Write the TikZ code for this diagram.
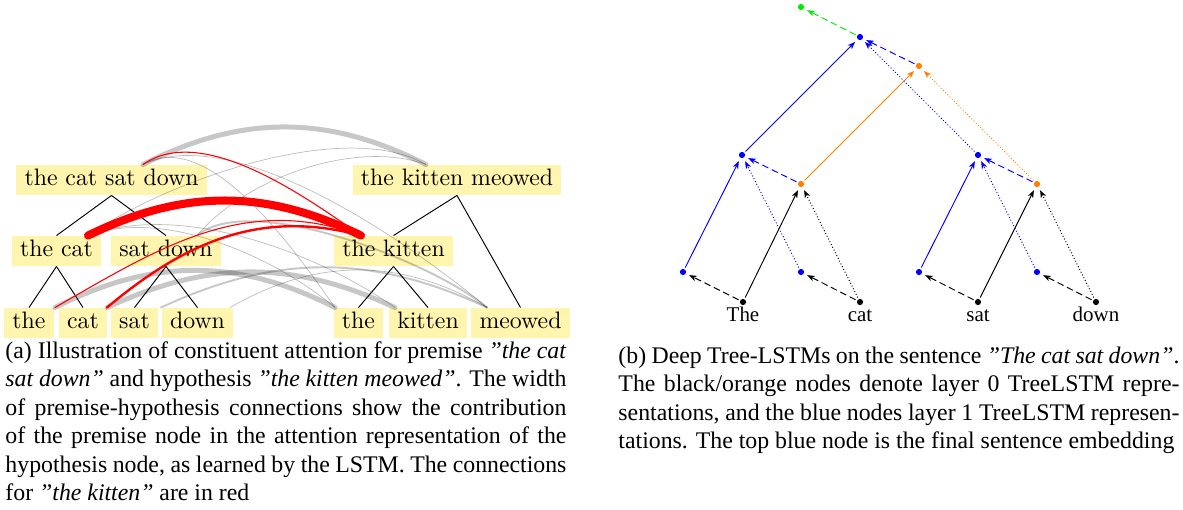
\documentclass[tikz,border=0pt]{standalone}
\usepackage{fontspec}
\newfontfamily\tms{Liberation Serif}
\usetikzlibrary{arrows.meta,calc}
\definecolor{boxy}{RGB}{255,245,175}
\definecolor{gr}{RGB}{0,235,0}
\newcommand{\capw}{235.7pt}
\begin{document}
\begin{tikzpicture}[x=0.42017pt,y=0.42017pt,
 wbox/.style={fill=boxy,inner xsep=3.4pt,inner ysep=1.6pt,text height=7.2pt,text depth=2.2pt},
 tedge/.style={line width=0.4pt},
 garc/.style={draw=black,draw opacity=0.22,line cap=round},
 gthin/.style={draw=black,draw opacity=0.26,line width=0.3pt},
 rarc/.style={draw=red,line cap=round},
 dotn/.style={circle,inner sep=0pt,minimum size=2.6pt},
 arr/.style={-{Stealth[length=3.2pt,width=2.4pt,inset=0.9pt]},line width=0.4pt,shorten >=1.4pt,shorten <=0.6pt},
 dsh/.style={dash pattern=on 2.8pt off 1.6pt},
 dtt/.style={dash pattern=on 0.4pt off 0.9pt},
 wlab/.style={anchor=base,inner sep=0pt,font=\tms\fontsize{8.8}{10}\selectfont},
 capl/.style={anchor=base west,inner sep=0pt,font=\tms\fontsize{10}{12}\selectfont}]
\useasboundingbox (0,0) rectangle (1183,-509);

% ---------- left panel: boxes ----------
\node[wbox] (PA) at (111.5,-180) {the cat sat down};
\node[wbox] (PB) at (56.5,-251) {the cat};
\node[wbox] (PC) at (166,-251) {sat down};
\node[wbox] (P1) at (29,-323) {the};
\node[wbox] (P2) at (83,-323) {cat};
\node[wbox] (P3) at (134.5,-323) {sat};
\node[wbox] (P4) at (197.5,-323) {down};
\node[wbox] (HA) at (457,-180) {the kitten meowed};
\node[wbox] (HB) at (393.5,-251) {the kitten};
\node[wbox] (H1) at (358.5,-323) {the};
\node[wbox] (H2) at (428,-323) {kitten};
\node[wbox] (H3) at (520.5,-323) {meowed};

% tree edges
\draw[tedge] (PA.south) -- (PB.north);
\draw[tedge] (PA.south) -- (PC.north);
\draw[tedge] (PB.south) -- (P1.north);
\draw[tedge] (PB.south) -- (P2.north);
\draw[tedge] (PC.south) -- (P3.north);
\draw[tedge] (PC.south) -- (P4.north);
\draw[tedge] (HA.south) -- (HB.north);
\draw[tedge] (HA.south) -- (H3.north);
\draw[tedge] (HB.south) -- (H1.north);
\draw[tedge] (HB.south) -- (H2.north);

% arc anchors
\coordinate (aPA) at ($(PA.north)+(31.5,0)$);
\coordinate (aPB) at ($(PB.north)+(31.5,0)$);
\coordinate (aPC) at ($(PC.north)+(31,0)$);
\coordinate (aP1) at ($(P1.north)+(26,0)$);
\coordinate (aP2) at ($(P2.north)+(24,0)$);
\coordinate (aP3) at ($(P3.north)+(26.5,0)$);
\coordinate (aP4) at ($(P4.north)+(32.5,0)$);
\coordinate (aHA) at ($(HA.north)+(-31,0)$);
\coordinate (aHB) at ($(HB.north)+(-32.5,0)$);
\coordinate (aH1) at ($(H1.north)+(-23.5,0)$);
\coordinate (aH2) at ($(H2.north)+(-33,0)$);
\coordinate (aH3) at ($(H3.north)+(-33.5,0)$);

% gray connections
\draw[garc,line width=2.1pt] (aPA) to[out=27,in=153] (aHA);
\draw[garc,line width=2.1pt] (aP1) to[out=27,in=153] (aH1);
\draw[garc,line width=2.1pt] (aP2) to[out=25,in=155] (aH2);
\draw[garc,line width=0.8pt] (aP3) to[out=25,in=155] (aH3);
\draw[garc,line width=0.8pt] (aPC) to[out=40,in=140,looseness=0.6] (aH3);
\draw[gthin] (aPB) to[out=35,in=150,looseness=0.7] (aHA);
\draw[gthin] (aPC) to[out=50,in=160,looseness=0.8] (aHA);
\draw[gthin] (aPA) to[out=30,in=125,looseness=0.8] (aH1);
\draw[gthin] (aPA) to[out=25,in=140,looseness=0.7] (aH3);
\draw[gthin] (aPB) to[out=20,in=140,looseness=0.8] (aH1);
\draw[gthin] (aPB) to[out=20,in=145,looseness=0.8] (aH2);
\draw[gthin] (aP4) to[out=30,in=150] (aH3);

% red connections (the kitten)
\draw[rarc,line width=3.4pt] (aPB) to[out=26,in=154] (aHB);
\draw[rarc,line width=0.45pt] (aPA) to[out=35,in=145,looseness=0.8] (aHB);
\draw[rarc,line width=0.45pt] (aP1) to[out=30,in=160] (aHB);
\draw[rarc,line width=1pt] (aP2) to[out=40,in=165] (aHB);

% ---------- right panel ----------
\node[dotn,fill=black] (w1) at (743,-302) {};
\node[dotn,fill=black] (w2) at (860,-302) {};
\node[dotn,fill=black] (w3) at (978,-302) {};
\node[dotn,fill=black] (w4) at (1096,-302) {};
\node[dotn,fill=blue] (b1) at (683,-272) {};
\node[dotn,fill=blue] (b2) at (801,-272) {};
\node[dotn,fill=blue] (b3) at (919,-272) {};
\node[dotn,fill=blue] (b4) at (1037,-272) {};
\node[dotn,fill=orange] (o12) at (801,-184) {};
\node[dotn,fill=orange] (o34) at (1037,-184) {};
\node[dotn,fill=orange] (o0) at (919,-66) {};
\node[dotn,fill=blue] (u12) at (742,-155) {};
\node[dotn,fill=blue] (u34) at (978,-155) {};
\node[dotn,fill=blue] (u0) at (860,-37) {};
\node[dotn,fill=gr] (g) at (801,-7) {};

\node[wlab] (t1) at (743,-321) {The};
\node[wlab] (t2) at (860,-321) {cat};
\node[wlab] (t3) at (978,-321) {sat};
\node[wlab] (t4) at (1096,-321) {down};

% layer 0
\draw[arr] (w1) -- (o12);
\draw[arr,dtt] (w2) -- (o12);
\draw[arr] (w3) -- (o34);
\draw[arr,dtt] (w4) -- (o34);
\draw[arr,orange] (o12) -- (o0);
\draw[arr,orange,dtt] (o34) -- (o0);
% layer 0 -> layer 1
\draw[arr,dsh] (w1) -- (b1);
\draw[arr,dsh] (w2) -- (b2);
\draw[arr,dsh] (w3) -- (b3);
\draw[arr,dsh] (w4) -- (b4);
\draw[arr,blue,dsh] (o12) -- (u12);
\draw[arr,blue,dsh] (o34) -- (u34);
\draw[arr,blue,dsh] (o0) -- (u0);
\draw[arr,gr,dsh] (u0) -- (g);
% layer 1
\draw[arr,blue] (b1) -- (u12);
\draw[arr,blue,dtt] (b2) -- (u12);
\draw[arr,blue] (b3) -- (u34);
\draw[arr,blue,dtt] (b4) -- (u34);
\draw[arr,blue] (u12) -- (u0);
\draw[arr,blue,dtt] (u34) -- (u0);

% ---------- captions ----------
\node[capl] (ca1) at (5,-358) {\makebox[\capw][s]{(a) Illustration of constituent attention for premise \textit{”the cat}}};
\node[capl] (ca2) at (5,-386.6) {\makebox[\capw][s]{\textit{sat down”} and hypothesis \textit{”the kitten meowed”}. The width}};
\node[capl] (ca3) at (5,-415.1) {\makebox[\capw][s]{of premise-hypothesis connections show the contribution}};
\node[capl] (ca4) at (5,-443.7) {\makebox[\capw][s]{of the premise node in the attention representation of the}};
\node[capl] (ca5) at (5,-472.2) {\makebox[\capw][s]{hypothesis node, as learned by the LSTM. The connections}};
\node[capl] (ca6) at (5,-500.8) {for \textit{”the kitten”} are in red};

\node[capl] (cb1) at (618,-363) {\makebox[\capw][s]{(b) Deep Tree-LSTMs on the sentence \textit{”The cat sat down”}.}};
\node[capl] (cb2) at (618,-391.6) {\makebox[\capw][s]{The black/orange nodes denote layer 0 TreeLSTM repre-}};
\node[capl] (cb3) at (618,-420.1) {\makebox[\capw][s]{sentations, and the blue nodes layer 1 TreeLSTM represen-}};
\node[capl] (cb4) at (618,-448.7) {tations. The top blue node is the final sentence embedding};
\end{tikzpicture}
\end{document}
